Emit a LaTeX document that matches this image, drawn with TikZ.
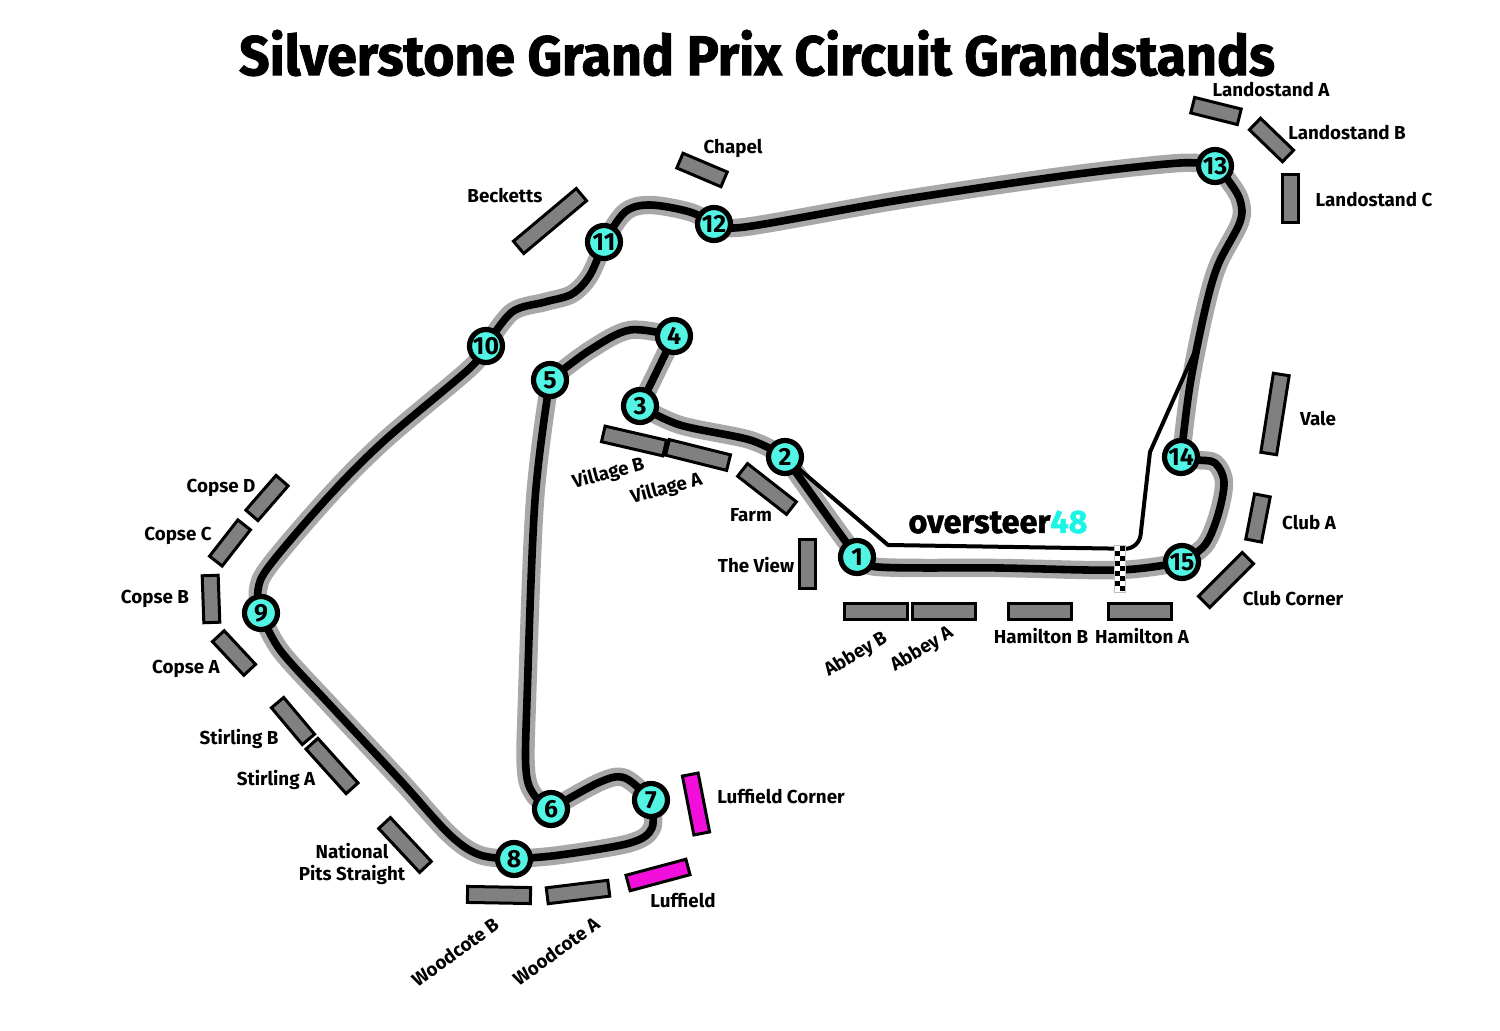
\documentclass[tikz,border=0pt]{standalone}
\usepackage{fontspec}
\setmainfont{Fira Sans}
\newfontfamily\heavyfont[BoldFeatures={FakeBold=1.6}]{Fira Sans}
\usetikzlibrary{backgrounds}
\definecolor{trackgray}{HTML}{A9A7A9}
\definecolor{standgray}{HTML}{808080}
\definecolor{turncyan}{HTML}{52F5E3}
\definecolor{logocyan}{HTML}{1CF5E6}
\definecolor{lufmag}{HTML}{F20FDC}
\tikzset{
  x=0.5pt,y=-0.5pt,
  turn/.style={circle,draw=black,line width=2.6pt,fill=turncyan,inner sep=0pt,outer sep=0pt,minimum size=16.5pt,font=\fontsize{12.4}{12.4}\selectfont\bfseries},
  stand/.style={draw=black,line width=1.5pt,fill=standgray,inner sep=0pt,outer sep=0pt,minimum height=8pt},
  paid/.style={stand,fill=lufmag},
  labbase/.style={inner sep=0pt,font=\fontsize{9.4}{11}\selectfont\bfseries,align=center},
  lab/.style={labbase,text height=7pt,text depth=0pt},
  graytrack/.style={draw=trackgray,line width=9.2pt,line join=round,line cap=round},
  blacktrack/.style={draw=black,line width=3.8pt,line join=round,line cap=round},
  pit/.style={draw=black,line width=2pt,line join=round},
}
\newcommand{\lapsegs}[1]{%
  \draw[#1] plot[smooth,tension=.55] coordinates {(n1) (878,567) (1000,568) (1120,570) (n15)};
  \draw[#1] plot[smooth,tension=.55] coordinates {(n15) (1205,545) (1218,515) (1224,482) (1215,463) (1198,460) (n14)};
  \draw[#1] plot[smooth,tension=.55] coordinates {(n14) (1190,385) (1205,310) (1218,265) (1240,222) (1240,200) (1228,180) (n13)};
  \draw[#1] plot[smooth,tension=.55] coordinates {(n13) (1180,163) (1070,175) (900,200) (745,227) (n12)};
  \draw[#1] plot[smooth,tension=.55] coordinates {(n12) (690,212) (650,205) (625,212) (n11)};
  \draw[#1] plot[smooth,tension=.55] coordinates {(n11) (590,275) (572,294) (545,302) (512,312) (n10)};
  \draw[#1] plot[smooth,tension=.55] coordinates {(n10) (470,368) (385,440) (330,495) (270,565) (258,590) (n9)};
  \draw[#1] plot[smooth,tension=.55] coordinates {(n9) (280,650) (330,705) (400,780) (450,835) (480,855) (n8)};
  \draw[#1] plot[smooth,tension=.55] coordinates {(n8) (560,855) (630,843) (652,828) (n7)};
  \draw[#1] plot[smooth,tension=.55] coordinates {(n7) (625,778) (600,782) (n6)};
  \draw[#1] plot[smooth,tension=.55] coordinates {(n6) (534,795) (526,770) (527,700) (535,500) (n5)};
  \draw[#1] plot[smooth,tension=.55] coordinates {(n5) (590,350) (630,330) (n4)};
  \draw[#1] (n4) -- (n3);
  \draw[#1] plot[smooth,tension=.55] coordinates {(n3) (680,425) (750,440) (n2)};
  \draw[#1] plot[smooth,tension=.55] coordinates {(n2) (830,520) (n1)};
}
\begin{document}
\begin{tikzpicture}
\useasboundingbox (0,0) rectangle (1500,1031);
\node[inner sep=0pt,xscale=.956] (title) at (757,53) {\heavyfont\fontsize{28}{28}\selectfont\bfseries Silverstone Grand Prix Circuit Grandstands};
\node[inner sep=0pt] (logo) at (998,522) {\heavyfont\fontsize{16.2}{16.2}\selectfont\bfseries oversteer\textcolor{logocyan}{48}};
% turns
\node[turn] (n1) at (857,557) {1};
\node[turn] (n2) at (785,457) {2};
\node[turn] (n3) at (640,406) {3};
\node[turn] (n4) at (674,336) {4};
\node[turn] (n5) at (550,380) {5};
\node[turn] (n6) at (551,809) {6};
\node[turn] (n7) at (651,800) {7};
\node[turn] (n8) at (514,859) {8};
\node[turn] (n9) at (261,613) {9};
\node[turn] (n10) at (486,346) {10};
\node[turn] (n11) at (604,242) {11};
\node[turn] (n12) at (714,224) {12};
\node[turn] (n13) at (1215,166) {13};
\node[turn] (n14) at (1181,457) {14};
\node[turn] (n15) at (1182,562) {15};
\coordinate (p1) at (888,545);
\coordinate (p2) at (1139,549);
\coordinate (p3) at (1150,452);
\coordinate (p4) at (1200,340);
\begin{scope}[on background layer]
  \lapsegs{graytrack}
  \lapsegs{blacktrack}
  \draw[pit] (n2) -- (p1) [rounded corners=7pt] -- (p2) [sharp corners] -- (p3) -- (p4);
\end{scope}
% start line
\fill[white] (1114,545) rectangle (1125,592);
\draw[lightgray,line width=.4pt] (1114,545) rectangle (1125,592);
\foreach \r in {0,...,8}{
  \pgfmathsetmacro{\xc}{isodd(\r)?1115:1120}
  \fill[black] (\xc,546+5*\r) rectangle ++(5,5);
}
% stands
\node[stand,minimum width=24pt,rotate=-14] (sLA) at (1216,111) {};
\node[stand,minimum width=23pt,rotate=-44] (sLB) at (1271.5,140) {};
\node[stand,minimum width=24pt,rotate=90] (sLC) at (1290,198.5) {};
\node[stand,minimum width=24pt,rotate=-23] (sCh) at (702,170) {};
\node[stand,minimum width=41pt,rotate=40] (sBe) at (550,221) {};
\node[stand,minimum width=40pt,rotate=81] (sVa) at (1275,414) {};
\node[stand,minimum width=23pt,rotate=79] (sCA) at (1258,518) {};
\node[stand,minimum width=31pt,rotate=45] (sCC) at (1226,580) {};
\node[stand,minimum width=31.5pt] (sHA) at (1140,611.5) {};
\node[stand,minimum width=31.5pt] (sHB) at (1040,611.5) {};
\node[stand,minimum width=31.5pt] (sAA) at (944,611.5) {};
\node[stand,minimum width=31.5pt] (sAB) at (876,611.5) {};
\node[stand,minimum width=24.5pt,rotate=90] (sTV) at (807,564) {};
\node[stand,minimum width=31pt,rotate=-38] (sFa) at (767,489) {};
\node[stand,minimum width=31.5pt,rotate=-14] (sVA) at (698,455) {};
\node[stand,minimum width=31.5pt,rotate=-13] (sVB) at (634,441) {};
\node[stand,minimum width=23pt,rotate=49] (sCD) at (267,498) {};
\node[stand,minimum width=23pt,rotate=52] (sCoC) at (230,543) {};
\node[stand,minimum width=23.5pt,rotate=92] (sCB) at (211,599) {};
\node[stand,minimum width=23pt,rotate=-47] (sCoA) at (234,653) {};
\node[stand,minimum width=24pt,rotate=-50] (sSB) at (293,721) {};
\node[stand,minimum width=30pt,rotate=-48] (sSA) at (332,766) {};
\node[stand,minimum width=30pt,rotate=-47] (sNP) at (405,845) {};
\node[stand,minimum width=31.5pt,rotate=-1] (sWB) at (499,895) {};
\node[stand,minimum width=31pt,rotate=7] (sWA) at (578,892) {};
\node[paid,minimum width=31pt,rotate=15] (sLu) at (658,875) {};
\node[paid,minimum width=30pt,rotate=-79] (sLC2) at (696,804) {};
% labels
\node[lab] (lLA) at (1271,90) {Landostand A};
\node[lab] (lLB) at (1347,133) {Landostand B};
\node[lab] (lLC) at (1374,200) {Landostand C};
\node[lab] (lCh) at (733,147) {Chapel};
\node[lab] (lBe) at (505,196) {Becketts};
\node[lab] (lVa) at (1318,419) {Vale};
\node[lab] (lCA) at (1309,523) {Club A};
\node[lab] (lCC) at (1293,599) {Club Corner};
\node[lab] (lHA) at (1142,637) {Hamilton A};
\node[lab] (lHB) at (1041,637) {Hamilton B};
\node[lab,rotate=31] (lAA) at (921,648) {Abbey A};
\node[lab,rotate=31] (lAB) at (855,653) {Abbey B};
\node[lab] (lTV) at (756,566) {The View};
\node[lab] (lFa) at (751,515) {Farm};
\node[lab,rotate=15] (lVA) at (666,487) {Village A};
\node[lab,rotate=15] (lVB) at (608,472) {Village B};
\node[lab] (lCD) at (221,486) {Copse D};
\node[lab] (lCoC) at (178,534) {Copse C};
\node[lab] (lCB) at (155,597) {Copse B};
\node[lab] (lCoA) at (186,667) {Copse A};
\node[lab] (lSB) at (239,738) {Stirling B};
\node[lab] (lSA) at (276,778) {Stirling A};
\node[labbase] (lNP) at (352,864) {National\\Pits Straight};
\node[lab,rotate=36] (lWB) at (455,952) {Woodcote B};
\node[lab,rotate=36] (lWA) at (556,951) {Woodcote A};
\node[lab] (lLu) at (683,900) {Luffield};
\node[lab] (lLC2) at (781,797) {Luffield Corner};
\end{tikzpicture}
\end{document}
